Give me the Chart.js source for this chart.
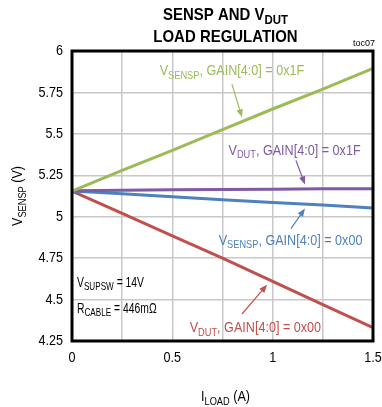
<!DOCTYPE html>
<html>
<head>
<meta charset="utf-8">
<script src="https://cdn.jsdelivr.net/npm/chart.js@4/dist/chart.umd.min.js"></script>
<style>
  html, body { margin: 0; padding: 0; background: #fff; }
  #wrap { width: 382px; height: 407px; }
</style>
</head>
<body>
<div id="wrap"><canvas id="c" width="382" height="407"></canvas></div>
<script>
'use strict';

// load current (A)
const loadCurrent = [0, 0.25, 0.5, 0.75, 1, 1.25, 1.5];

// output voltages (V)
const sensp1F = [5.155, 5.28, 5.40, 5.525, 5.65, 5.77, 5.895];
const vdut1F  = [5.157, 5.160, 5.162, 5.164, 5.166, 5.168, 5.168];
const sensp00 = [5.155, 5.138, 5.120, 5.103, 5.086, 5.070, 5.053];
const vdut00  = [5.155, 5.02, 4.885, 4.75, 4.61, 4.47, 4.33];

const xTicks = [0, 0.5, 1, 1.5];
const yTicks = [4.25, 4.5, 4.75, 5, 5.25, 5.5, 5.75, 6];

const GREEN = '#9bbb59';
const PURPLE = '#7f5aa5';
const BLUE = '#4f81bd';
const RED = '#c0504d';
const FONT = '"Liberation Sans", Arial, sans-serif';
const NARROW = 0.84; // the original uses a condensed face

const toPoints = function (ys) {
    return loadCurrent.map((x, i) => ({ x: x, y: ys[i] }));
};

const series = [
    { data: sensp1F, color: GREEN },
    { data: vdut1F, color: PURPLE },
    { data: sensp00, color: BLUE },
    { data: vdut00, color: RED }
];

// callout labels, anchored in data units
const callouts = [
    { color: GREEN, at: [0.797, 5.879], parts: [['V'], ['SENSP', 1], [', GAIN[4:0] = 0x1F']], arrow: [[0.797, 5.80], [0.847, 5.60]] },
    { color: PURPLE, at: [1.109, 5.40], parts: [['V'], ['DUT', 1], [', GAIN[4:0] = 0x1F']], arrow: [[1.116, 5.34], [1.161, 5.195]] },
    { color: BLUE, at: [1.089, 4.855], parts: [['V'], ['SENSP', 1], [', GAIN[4:0] = 0x00']], arrow: [[1.091, 4.928], [1.161, 5.049]] },
    { color: RED, at: [0.914, 4.328], parts: [['V'], ['DUT', 1], [', GAIN[4:0] = 0x00']], arrow: [[0.847, 4.413], [0.972, 4.589]] }
];

// draw text with subscripts; align: 'left' | 'center' | 'right'
const richText = function (ctx, parts, x, y, size, color, align, weight, stretch) {
    weight = weight || 'normal';
    stretch = stretch || NARROW;
    const subSize = Math.round(size * 0.75);
    let width = 0;
    parts.forEach(p => {
        ctx.font = weight + ' ' + (p[1] ? subSize : size) + 'px ' + FONT;
        width += ctx.measureText(p[0]).width;
    });
    let cx = align === 'center' ? -width / 2 : (align === 'right' ? -width : 0);
    ctx.save();
    ctx.translate(x, y);
    ctx.scale(stretch, 1);
    ctx.fillStyle = color;
    ctx.textBaseline = 'middle';
    ctx.textAlign = 'left';
    parts.forEach(p => {
        ctx.font = weight + ' ' + (p[1] ? subSize : size) + 'px ' + FONT;
        ctx.fillText(p[0], cx, p[1] ? size * 0.3 : 0);
        cx += ctx.measureText(p[0]).width;
    });
    ctx.restore();
};

const arrow = function (ctx, x0, y0, x1, y1, color) {
    const ang = Math.atan2(y1 - y0, x1 - x0);
    const len = 8, half = 3.2;
    ctx.strokeStyle = color;
    ctx.fillStyle = color;
    ctx.lineWidth = 1.2;
    ctx.beginPath();
    ctx.moveTo(x0, y0);
    ctx.lineTo(x1 - Math.cos(ang) * len * 0.8, y1 - Math.sin(ang) * len * 0.8);
    ctx.stroke();
    ctx.beginPath();
    ctx.moveTo(x1, y1);
    ctx.lineTo(x1 - Math.cos(ang) * len - Math.sin(ang) * half, y1 - Math.sin(ang) * len + Math.cos(ang) * half);
    ctx.lineTo(x1 - Math.cos(ang) * len + Math.sin(ang) * half, y1 - Math.sin(ang) * len - Math.cos(ang) * half);
    ctx.closePath();
    ctx.fill();
};

const decorations = {
    id: 'decorations',
    afterDatasetsDraw(chart) {
        const ctx = chart.ctx;
        const a = chart.chartArea;
        const xs = chart.scales.x, ys = chart.scales.y;
        ctx.save();

        // frame
        ctx.strokeStyle = '#000';
        ctx.lineWidth = 3;
        ctx.strokeRect(a.left, a.top, a.right - a.left, a.bottom - a.top);

        // tick labels
        xTicks.forEach(v => {
            richText(ctx, [[String(v)]], xs.getPixelForValue(v), a.bottom + 17, 15, '#000', 'center');
        });
        yTicks.forEach(v => {
            richText(ctx, [[String(v)]], a.left - 9, ys.getPixelForValue(v), 15, '#000', 'right');
        });

        callouts.forEach(c => {
            richText(ctx, c.parts, xs.getPixelForValue(c.at[0]), ys.getPixelForValue(c.at[1]), 15, c.color, 'center');
            arrow(ctx,
                xs.getPixelForValue(c.arrow[0][0]), ys.getPixelForValue(c.arrow[0][1]),
                xs.getPixelForValue(c.arrow[1][0]), ys.getPixelForValue(c.arrow[1][1]), c.color);
        });

        // conditions box
        richText(ctx, [['V'], ['SUPSW', 1], [' = 14V']], a.left + 5, 283, 14, '#000', 'left', 'normal', 0.74);
        richText(ctx, [['R'], ['CABLE', 1], [' = 446m\u03A9']], a.left + 5, 309, 14, '#000', 'left', 'normal', 0.74);

        // titles
        const midX = (a.left + a.right) / 2 + 3;
        richText(ctx, [['SENSP AND V'], ['DUT', 1]], midX, 15, 17, '#000', 'center', 'bold', 0.88);
        richText(ctx, [['LOAD REGULATION']], midX, 37, 17, '#000', 'center', 'bold', 0.88);

        ctx.font = '9px ' + FONT;
        ctx.fillStyle = '#000';
        ctx.textAlign = 'right';
        ctx.textBaseline = 'middle';
        ctx.fillText('toc07', a.right + 2, 44);

        richText(ctx, [['I'], ['LOAD', 1], [' (A)']], midX, 397, 15, '#000', 'center');

        ctx.translate(18, (a.top + a.bottom) / 2);
        ctx.rotate(-Math.PI / 2);
        richText(ctx, [['V'], ['SENSP', 1], [' (V)']], 0, 0, 15, '#000', 'center');
        ctx.restore();
    }
};

new Chart(document.getElementById('c'), {
    type: 'line',
    data: {
        datasets: series.map(s => ({
            data: toPoints(s.data),
            borderColor: s.color,
            backgroundColor: s.color,
            borderWidth: 3,
            pointRadius: 0,
            tension: 0,
            fill: false
        }))
    },
    options: {
        responsive: false,
        animation: false,
        devicePixelRatio: 1,
        layout: { padding: { top: 51, right: 9, left: 0, bottom: 0 } },
        plugins: { legend: { display: false }, tooltip: { enabled: false }, title: { display: false } },
        scales: {
            x: {
                type: 'linear',
                min: 0, max: 1.5,
                afterFit: s => { s.height = 66; },
                afterBuildTicks: s => { s.ticks = loadCurrent.map(v => ({ value: v })); },
                grid: { color: '#c8c8c8', lineWidth: 1.5, drawTicks: false },
                border: { display: false },
                ticks: { callback: () => '' }
            },
            y: {
                type: 'linear',
                min: 4.25, max: 6,
                afterFit: s => { s.width = 72; },
                afterBuildTicks: s => { s.ticks = yTicks.map(v => ({ value: v })); },
                grid: { color: '#c8c8c8', lineWidth: 1.5, drawTicks: false },
                border: { display: false },
                ticks: { callback: () => '' }
            }
        }
    },
    plugins: [decorations]
});
</script>
</body>
</html>
